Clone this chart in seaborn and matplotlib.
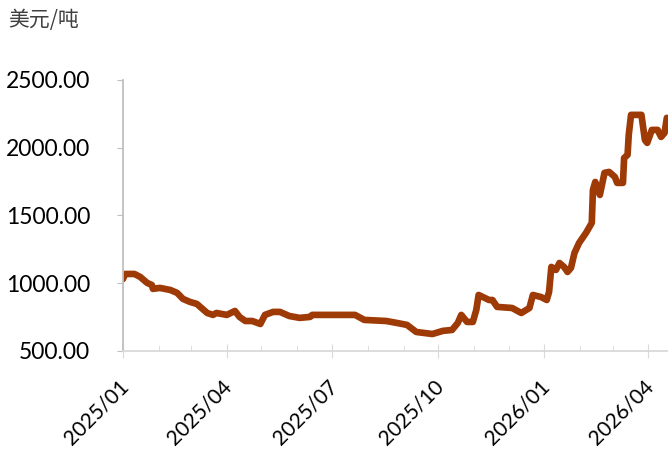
import seaborn as sns
import pandas as pd
import matplotlib.pyplot as plt
import matplotlib.dates as mdates
import matplotlib.transforms as mtransforms

# price series (USD/ton)
dates = ['2025-01-01', '2025-01-03', '2025-01-11', '2025-01-16', '2025-01-22', '2025-01-26',
         '2025-01-27', '2025-02-02', '2025-02-11', '2025-02-17', '2025-02-22', '2025-02-28',
         '2025-03-06', '2025-03-15', '2025-03-20', '2025-03-23', '2025-04-01', '2025-04-08',
         '2025-04-12', '2025-04-17', '2025-04-23', '2025-04-30', '2025-05-04', '2025-05-11',
         '2025-05-17', '2025-05-25', '2025-06-03', '2025-06-12', '2025-06-14', '2025-07-02',
         '2025-07-21', '2025-07-29', '2025-08-17', '2025-08-26', '2025-09-04', '2025-09-12',
         '2025-09-26', '2025-10-05', '2025-10-13', '2025-10-18', '2025-10-21', '2025-10-26',
         '2025-10-31', '2025-11-03', '2025-11-05', '2025-11-14', '2025-11-17', '2025-11-21',
         '2025-12-04', '2025-12-12', '2025-12-19', '2025-12-22', '2025-12-29', '2026-01-03',
         '2026-01-05', '2026-01-07', '2026-01-11', '2026-01-14', '2026-01-18', '2026-01-21',
         '2026-01-24', '2026-01-27', '2026-01-31', '2026-02-06', '2026-02-11', '2026-02-12',
         '2026-02-14', '2026-02-18', '2026-02-22', '2026-02-26', '2026-03-03', '2026-03-05',
         '2026-03-10', '2026-03-11', '2026-03-14', '2026-03-15', '2026-03-17', '2026-03-26',
         '2026-03-29', '2026-03-31', '2026-04-04', '2026-04-09', '2026-04-12', '2026-04-15',
         '2026-04-17']
prices = [1030, 1068, 1068, 1046, 1002, 987,
          958, 965, 950, 928, 884, 862,
          847, 780, 766, 780, 766, 795,
          751, 721, 721, 699, 766, 788,
          788, 758, 744, 751, 766, 766,
          766, 729, 721, 707, 692, 640,
          625, 648, 655, 707, 766, 714,
          714, 803, 913, 876, 876, 825,
          817, 780, 817, 913, 898, 876,
          935, 1120, 1098, 1149, 1120, 1083,
          1113, 1223, 1297, 1371, 1445, 1688,
          1747, 1651, 1814, 1821, 1784, 1740,
          1740, 1924, 1947, 2094, 2242, 2242,
          2057, 2035, 2131, 2131, 2079, 2109,
          2220]

y_ticks = [500, 1000, 1500, 2000, 2500]

df = pd.DataFrame({'date': pd.to_datetime(dates), 'price': prices})

sns.set_style('white')
plt.rcParams['font.family'] = ['Lato', 'Noto Sans CJK SC', 'DejaVu Sans']

fig = plt.figure(figsize=(6.68, 4.54), dpi=100)
ax = fig.add_axes([0.184, 0.227, 0.816, 0.597])

sns.lineplot(data=df, x='date', y='price', color='#9E3A06', linewidth=4.8, ax=ax)

ax.set_ylim(500, 2500)
ax.set_yticks(y_ticks)
ax.set_yticklabels([f'{v:.2f}' for v in y_ticks], fontsize=16.5, color='black')
ax.set_xlim(pd.Timestamp('2025-01-01'), pd.Timestamp('2026-04-18'))

ax.xaxis.set_major_locator(mdates.MonthLocator(bymonth=[1, 4, 7, 10]))
ax.xaxis.set_minor_locator(mdates.MonthLocator())
ax.xaxis.set_major_formatter(mdates.DateFormatter('%Y/%m'))

ax.set_xlabel('')
ax.set_ylabel('')
for side in ['top', 'right']:
    ax.spines[side].set_visible(False)
ax.spines['left'].set_color('#bfbfbf')
ax.spines['bottom'].set_color('#d9d9d9')
ax.spines['left'].set_linewidth(1.3)
ax.spines['bottom'].set_linewidth(1.3)

ax.tick_params(axis='y', which='major', left=True, direction='out', length=4.5, color='#bfbfbf', pad=19)
ax.tick_params(axis='x', which='major', bottom=True, direction='inout', length=10, color='#d9d9d9', pad=13)
ax.tick_params(axis='x', which='minor', bottom=True, direction='in', length=4.5, color='#d9d9d9')

# nudge the rotated date labels a little to the left
shift = mtransforms.ScaledTranslation(-5 / 100, 0, fig.dpi_scale_trans)
for lbl in ax.get_xticklabels():
    lbl.set_rotation(45)
    lbl.set_ha('right')
    lbl.set_rotation_mode('anchor')
    lbl.set_fontsize(15)
    lbl.set_color('black')
    lbl.set_transform(lbl.get_transform() + shift)

fig.text(0.012, 0.955, '美元/吨', fontsize=15, color='#404040',
         family=['Noto Sans CJK SC', 'DejaVu Sans'], va='center')

fig.savefig('out.png', dpi=100)
